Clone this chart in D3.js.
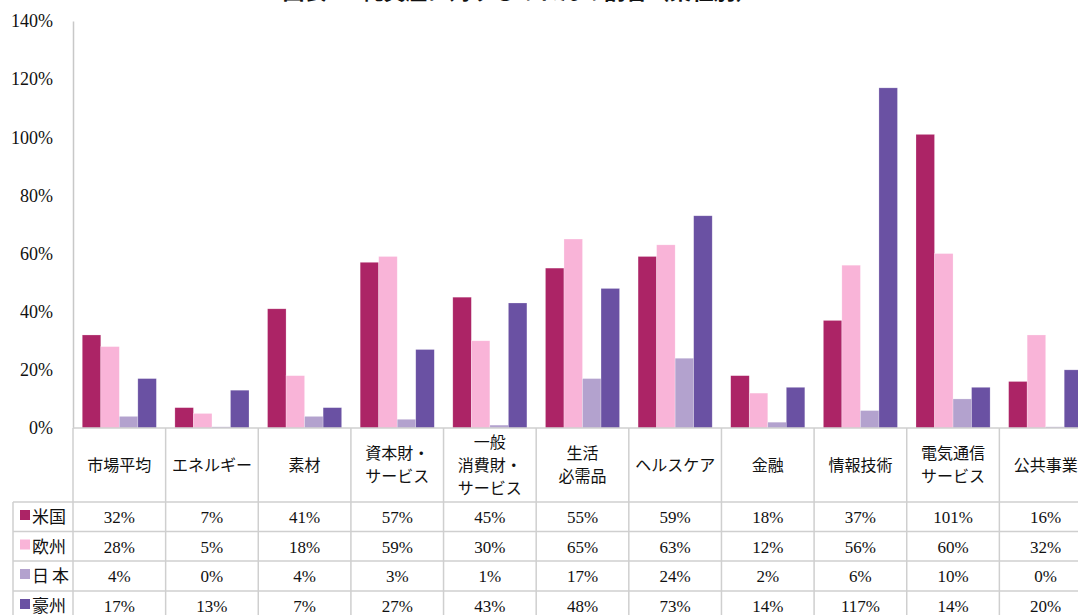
<html><head>
  <script src="https://d3js.org/d3.v7.min.js"></script>
</head>
<body>
  <style>
  body { margin: 0; background: white; }
  text { font-family: 'Liberation Serif', 'Noto Sans CJK JP', serif; fill: #111; }
  .grid { stroke: #cfcfcf; stroke-width: 1.5; }
  .axis path { stroke: #c8c8c8; stroke-width: 1.5; }
  .axis line { display: none; }
  .axis text { font-size: 18px; }
  </style>

  <script>
    // data
    const categories = ["市場平均", "エネルギー", "素材", "資本財・\nサービス", "一般\n消費財・\nサービス",
                        "生活\n必需品", "ヘルスケア", "金融", "情報技術", "電気通信\nサービス", "公共事業"]
    const regions = ["米国", "欧州", "日本", "豪州"]
    const colors = ["#ac2466", "#f9b4d8", "#b3a2ce", "#6a51a3"]
    const usValues = [32, 7, 41, 57, 45, 55, 59, 18, 37, 101, 16]
    const euValues = [28, 5, 18, 59, 30, 65, 63, 12, 56, 60, 32]
    const jpValues = [4, 0.4, 4, 3, 1, 17, 24, 2, 6, 10, 0.4]
    const auValues = [17, 13, 7, 27, 43, 48, 73, 14, 117, 14, 20]
    const yTicks = [0, 20, 40, 60, 80, 100, 120, 140]
    const seriesValues = [usValues, euValues, jpValues, auValues]

    const W = 1078, H = 615
    const svg = d3.select("body").append("svg").attr("width", W).attr("height", H)

    const x = d3.scaleBand().domain(d3.range(categories.length)).range([73, 1092])
    const xs = d3.scaleBand().domain(d3.range(regions.length)).range([0, x.bandwidth()]).paddingOuter(0.5).paddingInner(0)
    const y = d3.scaleLinear().domain([0, 140]).range([428, 21])

    // title (cut off at top of the frame, as in the source)
    svg.append("text").attr("x", 520).attr("y", -1).attr("text-anchor", "middle")
       .style("font-family", "'Noto Sans CJK JP'").style("font-size", "22px").style("font-weight", "bold")
       .text("図表3　純資産に対するのれんの割合（業種別）")

    // bars
    const flat = []
    seriesValues.forEach((vals, s) => vals.forEach((v, c) => flat.push({s: s, c: c, v: v})))
    svg.append("g").selectAll("rect").data(flat).join("rect")
       .attr("x", d => x(d.c) + xs(d.s))
       .attr("y", d => y(d.v))
       .attr("width", xs.bandwidth())
       .attr("height", d => y(0) - y(d.v))
       .attr("fill", d => colors[d.s])
       .attr("stroke", "white").attr("stroke-opacity", 0.4).attr("stroke-width", 0.6)

    // y axis
    svg.append("g").attr("class", "axis")
       .attr("transform", "translate(73,0)")
       .call(d3.axisLeft(y).tickValues(yTicks).tickSize(0).tickSizeOuter(0).tickPadding(20).tickFormat(d => d + "%"))
       .call(g => g.selectAll("text").attr("dy", "0.32em"))

    // table grid
    const rowTop = [502, 531.5, 561, 591]
    const grid = svg.append("g")
    grid.append("line").attr("class", "grid").attr("x1", 73).attr("x2", W).attr("y1", 428).attr("y2", 428)
    rowTop.forEach(r => grid.append("line").attr("class", "grid").attr("x1", 13).attr("x2", W).attr("y1", r).attr("y2", r))
    d3.range(categories.length + 1).forEach(i => {
      const xx = i < categories.length ? x(i) : x.range()[1]
      grid.append("line").attr("class", "grid").attr("x1", xx).attr("x2", xx).attr("y1", 428).attr("y2", H)
    })
    grid.append("line").attr("class", "grid").attr("x1", 13).attr("x2", 13).attr("y1", 502).attr("y2", H)

    // category headers
    const header = svg.append("g")
    categories.forEach((c, i) => {
      const lines = c.split("\n")
      const cx = x(i) + x.bandwidth() / 2
      lines.forEach((ln, k) => {
        header.append("text").attr("x", cx)
              .attr("y", 465 + (k - (lines.length - 1) / 2) * 23)
              .attr("dy", "0.36em").attr("text-anchor", "middle")
              .style("font-size", "16px").text(ln)
      })
    })

    // legend column and values
    regions.forEach((r, s) => {
      const cy = rowTop[s] + 15
      svg.append("rect").attr("x", 20).attr("y", cy - 7).attr("width", 10).attr("height", 10).attr("fill", colors[s])
      svg.append("text").attr("x", 32).attr("y", cy).attr("dy", "0.36em")
         .style("font-size", "17px").style("letter-spacing", r == "日本" ? "3px" : "0px").text(r)
      seriesValues[s].forEach((v, c) => {
        svg.append("text").attr("x", x(c) + x.bandwidth() / 2).attr("y", cy).attr("dy", "0.36em")
           .attr("text-anchor", "middle").style("font-size", "17px").text(Math.round(v) + "%")
      })
    })
  </script>
</body>
</html>
